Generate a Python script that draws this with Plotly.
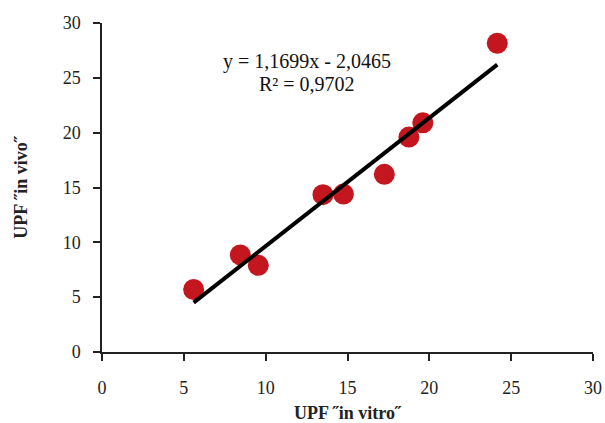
import plotly.graph_objects as go

# Data
upf_in_vitro = [5.6, 8.45, 9.55, 13.5, 14.75, 17.25, 18.75, 19.6, 24.15]
upf_in_vivo = [5.7, 8.85, 7.9, 14.35, 14.4, 16.2, 19.6, 20.9, 28.15]
slope = 1.1699
intercept = -2.0465
r_squared = 0.9702
x_ticks = [0, 5, 10, 15, 20, 25, 30]
y_ticks = [0, 5, 10, 15, 20, 25, 30]

x_fit = [min(upf_in_vitro), max(upf_in_vitro)]
y_fit = [slope * x + intercept for x in x_fit]

font_fam = "Liberation Serif, Times New Roman, serif"

def fmt(v):
    return str(v).replace('.', ',')

fig = go.Figure()
fig.add_trace(go.Scatter(
    x=upf_in_vitro, y=upf_in_vivo, mode="markers",
    marker=dict(size=21, color="#C4161E", line=dict(width=0)),
    showlegend=False))
fig.add_trace(go.Scatter(
    x=x_fit, y=y_fit, mode="lines",
    line=dict(color="black", width=4), showlegend=False))

fig.add_annotation(
    x=12.52, y=26.46, xref="x", yref="y",
    text=f"y = {fmt(slope)}x - {fmt(abs(intercept))}", showarrow=False,
    font=dict(family=font_fam, size=20, color="#111"))
fig.add_annotation(
    x=12.52, y=24.46, xref="x", yref="y",
    text=f"R² = {fmt(r_squared)}", showarrow=False,
    font=dict(family=font_fam, size=20, color="#111"))

axis_common = dict(
    showgrid=False, zeroline=False, showline=True, linecolor="#222", linewidth=1.5,
    ticks="outside", ticklen=7, tickwidth=1.5, tickcolor="#222",
    tickfont=dict(family=font_fam, size=18, color="#222"),
    range=[0, 30], automargin=False)

fig.update_xaxes(**axis_common, tickvals=x_ticks, ticklabelstandoff=12,
                 title=dict(text="<b>UPF ˝in vitro˝</b>",
                            font=dict(family=font_fam, size=18, color="#222"),
                            standoff=14))
fig.update_yaxes(**axis_common, tickvals=y_ticks, ticklabelstandoff=9,
                 title=dict(text="<b>UPF ˝in vivo˝</b>",
                            font=dict(family=font_fam, size=18, color="#222"),
                            standoff=30))

fig.update_layout(
    width=605, height=423,
    margin=dict(l=102, r=12, t=23, b=71),
    paper_bgcolor="white", plot_bgcolor="white")

fig.write_html("out.html", config={"displayModeBar": False},
               post_script="document.body.style.margin='0';document.body.style.overflow='hidden';")
